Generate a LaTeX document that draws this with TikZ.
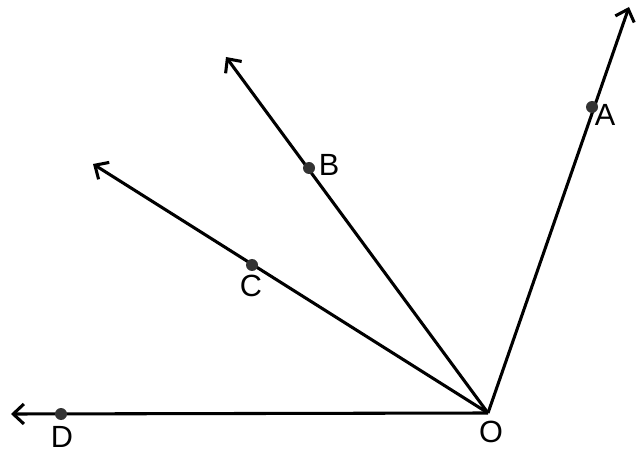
\documentclass[tikz,border=0pt]{standalone}
\usepackage{fontspec}
\setmainfont{Liberation Sans}
\usetikzlibrary{arrows.meta}
\begin{document}
\begin{tikzpicture}[x=0.75pt,y=-0.75pt,
  ray/.style={line width=2.3pt,-{Straight Barb[length=8pt,width=15pt,line join=miter]}},
  pt/.style={circle,fill=black!80,inner sep=0pt,minimum size=9pt},
  lbl/.style={inner sep=0pt,font=\fontsize{23}{27}\selectfont}]
\useasboundingbox (0,0) rectangle (639,452);
\coordinate (O) at (488,413);
\coordinate (tA) at (629,7);
\coordinate (tB) at (226,57);
\coordinate (tC) at (93,164);
\coordinate (tD) at (11,414);
\draw[ray] (O) -- (tA);
\draw[ray] (O) -- (tB);
\draw[ray] (O) -- (tC);
\draw[ray] (O) -- (tD);
\node[pt] (A) at (592,107) {};
\node[pt] (B) at (309,168) {};
\node[pt] (C) at (252,265) {};
\node[pt] (D) at (61,414) {};
\node[lbl] (lA) at (605,115) {A};
\node[lbl] (lB) at (329,165) {B};
\node[lbl] (lC) at (251,286) {C};
\node[lbl] (lD) at (62,437) {D};
\node[lbl] (lO) at (491,432) {O};
\end{tikzpicture}
\end{document}
